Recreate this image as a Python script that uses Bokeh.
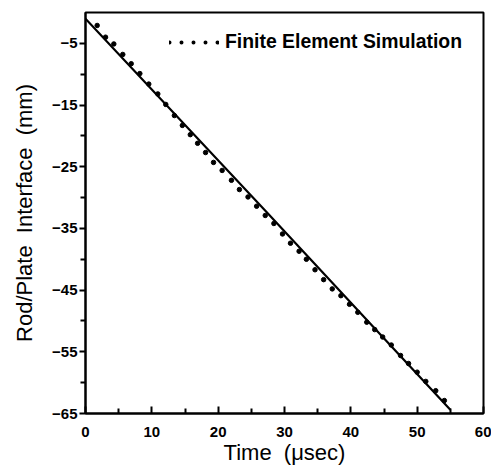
from bokeh.plotting import figure
from bokeh.models import FixedTicker, Legend, LegendItem, Range1d
from bokeh.embed import file_html
from bokeh.resources import INLINE

# Solid line (analytical / experimental)
line_t = [0.0, 27.5, 55.0]
line_y = [-1.0, -32.6, -64.4]

# Finite element simulation points (dotted)
fe_t = [1.76, 3.02, 4.27, 5.62, 6.89, 8.19, 9.54, 10.9, 12.1, 13.4, 14.6, 15.8, 16.9,
        18.1, 19.3, 20.6, 22.0, 23.2, 24.5, 25.8, 27.1, 28.4, 29.7, 30.9, 32.2, 33.3,
        34.6, 35.9, 37.2, 38.5, 39.8, 41.05, 42.4, 43.6, 44.8, 46.1, 47.5, 48.7, 50.0,
        51.3, 52.8, 54.1]
fe_y = [-2.1, -4.0, -5.1, -6.8, -8.3, -9.9, -11.6, -13.2, -14.9, -16.7, -18.3, -19.8, -21.2,
        -22.7, -24.3, -25.6, -27.2, -28.7, -29.9, -31.4, -32.9, -34.2, -35.9, -37.4, -38.7, -40.0,
        -41.7, -43.3, -44.8, -45.9, -47.3, -48.6, -50.2, -51.4, -52.6, -53.9, -55.6, -56.9, -58.3,
        -59.8, -61.3, -62.9]

x_ticks = [0, 10, 20, 30, 40, 50, 60]
x_minor = [5, 15, 25, 35, 45, 55]
y_ticks = [-65, -55, -45, -35, -25, -15, -5]
y_minor = [-60, -50, -40, -30, -20, -10]

NB = "\u00a0"
NAN = float("nan")

p = figure(width=491, height=475, output_backend="svg", toolbar_location=None,
           x_range=Range1d(0, 60), y_range=Range1d(-65, 0),
           min_border_left=85, min_border_right=8, min_border_top=12, min_border_bottom=62)

p.line(line_t, line_y, line_color="black", line_width=2.2)
p.scatter(fe_t, fe_y, size=4.5, color="black")

# legend-only renderer (no visible data)
dummy = p.line([NAN], [NAN], line_color="black", line_width=4, line_dash="0 12", line_cap="round")
leg = Legend(items=[LegendItem(label="Finite Element Simulation", renderers=[dummy])],
             location=(84, 360), glyph_width=50, glyph_height=18, label_standoff=6,
             padding=0, margin=0, border_line_color=None, background_fill_alpha=0,
             label_text_font="Liberation Sans", label_text_font_style="bold",
             label_text_font_size="19.4px", label_text_color="black", label_height=20)
p.add_layout(leg, "center")

p.grid.visible = False
p.outline_line_color = "black"
p.outline_line_width = 2
p.background_fill_color = "white"
p.border_fill_color = "white"

p.xaxis.ticker = FixedTicker(ticks=x_ticks, minor_ticks=x_minor)
p.yaxis.ticker = FixedTicker(ticks=y_ticks, minor_ticks=y_minor)

for ax in (p.xaxis[0], p.yaxis[0]):
    ax.axis_line_width = 2
    ax.axis_line_color = "black"
    ax.major_tick_line_color = "black"
    ax.minor_tick_line_color = "black"
    ax.major_tick_line_width = 2
    ax.minor_tick_line_width = 2
    ax.major_label_text_font = "Liberation Sans"
    ax.major_label_text_font_style = "bold"
    ax.major_label_text_font_size = "15px"
    ax.major_label_text_color = "black"
    ax.axis_label_text_font = "Liberation Sans"
    ax.axis_label_text_font_style = "normal"
    ax.axis_label_text_font_size = "22px"
    ax.axis_label_text_color = "black"

p.xaxis.major_tick_in = 7
p.xaxis.major_tick_out = 0
p.xaxis.minor_tick_in = 5
p.xaxis.minor_tick_out = 0
p.xaxis.major_label_standoff = 13
p.xaxis.axis_label = "Time" + NB + NB + "(\u03bcsec)"
p.xaxis.axis_label_standoff = 0

p.yaxis.major_tick_in = 0
p.yaxis.major_tick_out = 6
p.yaxis.minor_tick_in = 0
p.yaxis.minor_tick_out = 5
p.yaxis.major_label_standoff = 2
p.yaxis.axis_label = "Rod/Plate" + NB + NB + "Interface" + NB + NB + "(mm)"
p.yaxis.axis_label_standoff = 12

open("out.html", "w").write(file_html(p, INLINE))
